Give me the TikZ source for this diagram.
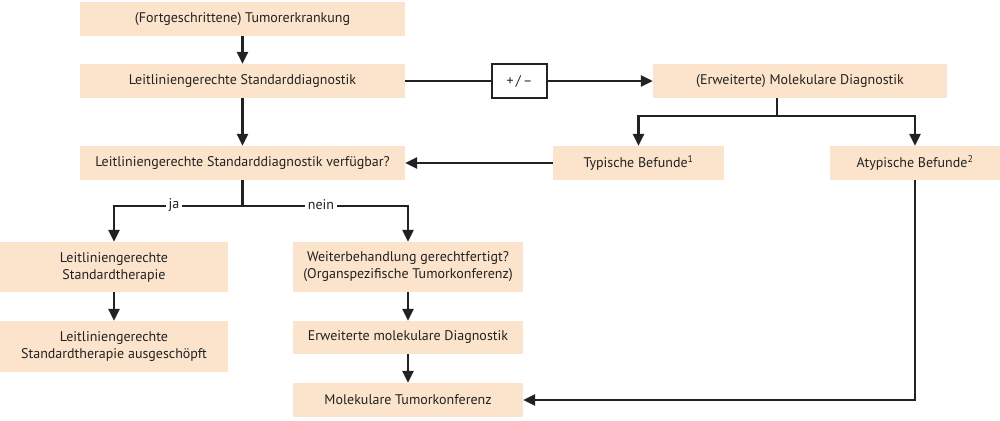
\documentclass[tikz,border=0pt]{standalone}
\usepackage{fontspec}
\setmainfont{PT Sans}
\usetikzlibrary{arrows.meta,calc}
\definecolor{peach}{RGB}{252,228,204}
\definecolor{ink}{RGB}{34,34,34}
\begin{document}
\begin{tikzpicture}[x=1pt,y=-1pt,
  box/.style={fill=peach,draw=none,align=center,inner sep=0pt,font=\fontsize{14}{17}\selectfont,text=ink},
  conn/.style={draw=ink,line width=2.5pt},
  arr/.style={conn,-{Triangle[length=12pt,width=11pt]}},
  lbl/.style={fill=white,inner sep=3pt,font=\fontsize{14}{15}\selectfont,text=ink}]
\useasboundingbox (0,0) rectangle (1000,420);
\node[box,minimum width=325pt,minimum height=34pt] (b1) at (242.5,19) {(Fortgeschrittene) Tumorerkrankung};
\node[box,minimum width=325pt,minimum height=34pt] (b2) at (242.5,81) {Leitliniengerechte Standarddiagnostik};
\node[box,minimum width=325pt,minimum height=34pt] (b3) at (242.5,163) {Leitliniengerechte Standarddiagnostik verfügbar?};
\node[box,minimum width=228pt,minimum height=50pt] (b4) at (114,267) {Leitliniengerechte\\Standardtherapie};
\node[box,minimum width=228pt,minimum height=51pt] (b5) at (114,346.5) {Leitliniengerechte\\Standardtherapie ausgeschöpft};
\node[box,minimum width=230pt,minimum height=50pt] (b6) at (408,267) {Weiterbehandlung gerechtfertigt?\\(Organspezifische Tumorkonferenz)};
\node[box,minimum width=230pt,minimum height=33pt] (b7) at (408,337.5) {Erweiterte molekulare Diagnostik};
\node[box,minimum width=230pt,minimum height=34pt] (b8) at (408,400) {Molekulare Tumorkonferenz};
\node[draw=ink,line width=2.5pt,fill=white,minimum width=55pt,minimum height=34pt,inner sep=0pt,font=\fontsize{14}{15}\selectfont,text=ink] (pm) at (519.5,81) {+\,/\,–};
\node[box,minimum width=294pt,minimum height=34pt] (mol) at (800,81) {(Erweiterte) Molekulare Diagnostik};
\node[box,minimum width=171pt,minimum height=34pt] (typ) at (638.5,163) {Typische Befunde\textsuperscript{1}};
\node[box,minimum width=170pt,minimum height=34pt] (atyp) at (915,163) {Atypische Befunde\textsuperscript{2}};
\coordinate (mb) at (777,116);
\coordinate (jb) at (242.5,206);
\coordinate (ac) at (915,400);
\draw[arr] (b1) -- (b2);
\draw[arr] (b2) -- (b3);
\draw[conn] (b2.east) -- (pm.west);
\draw[arr] (pm.east) -- (mol.west);
\draw[conn] (mol.south -| mb) -- (mb);
\draw[arr] (mb) -| (typ.north);
\draw[arr] (mb) -| (atyp.north);
\draw[arr] (typ.west) -- (b3.east);
\draw[conn] (b3.south) -- (jb);
\draw[arr] (jb) -| (b4.north);
\draw[arr] (jb) -| (b6.north);
\node[lbl] (ja) at (174,205) {ja};
\node[lbl] (nein) at (321,205) {nein};
\draw[arr] (b4) -- (b5);
\draw[arr] (b6) -- (b7);
\draw[arr] (b7) -- (b8);
\draw[arr] (atyp.south) -- (ac) -- (b8.east);
\end{tikzpicture}
\end{document}
